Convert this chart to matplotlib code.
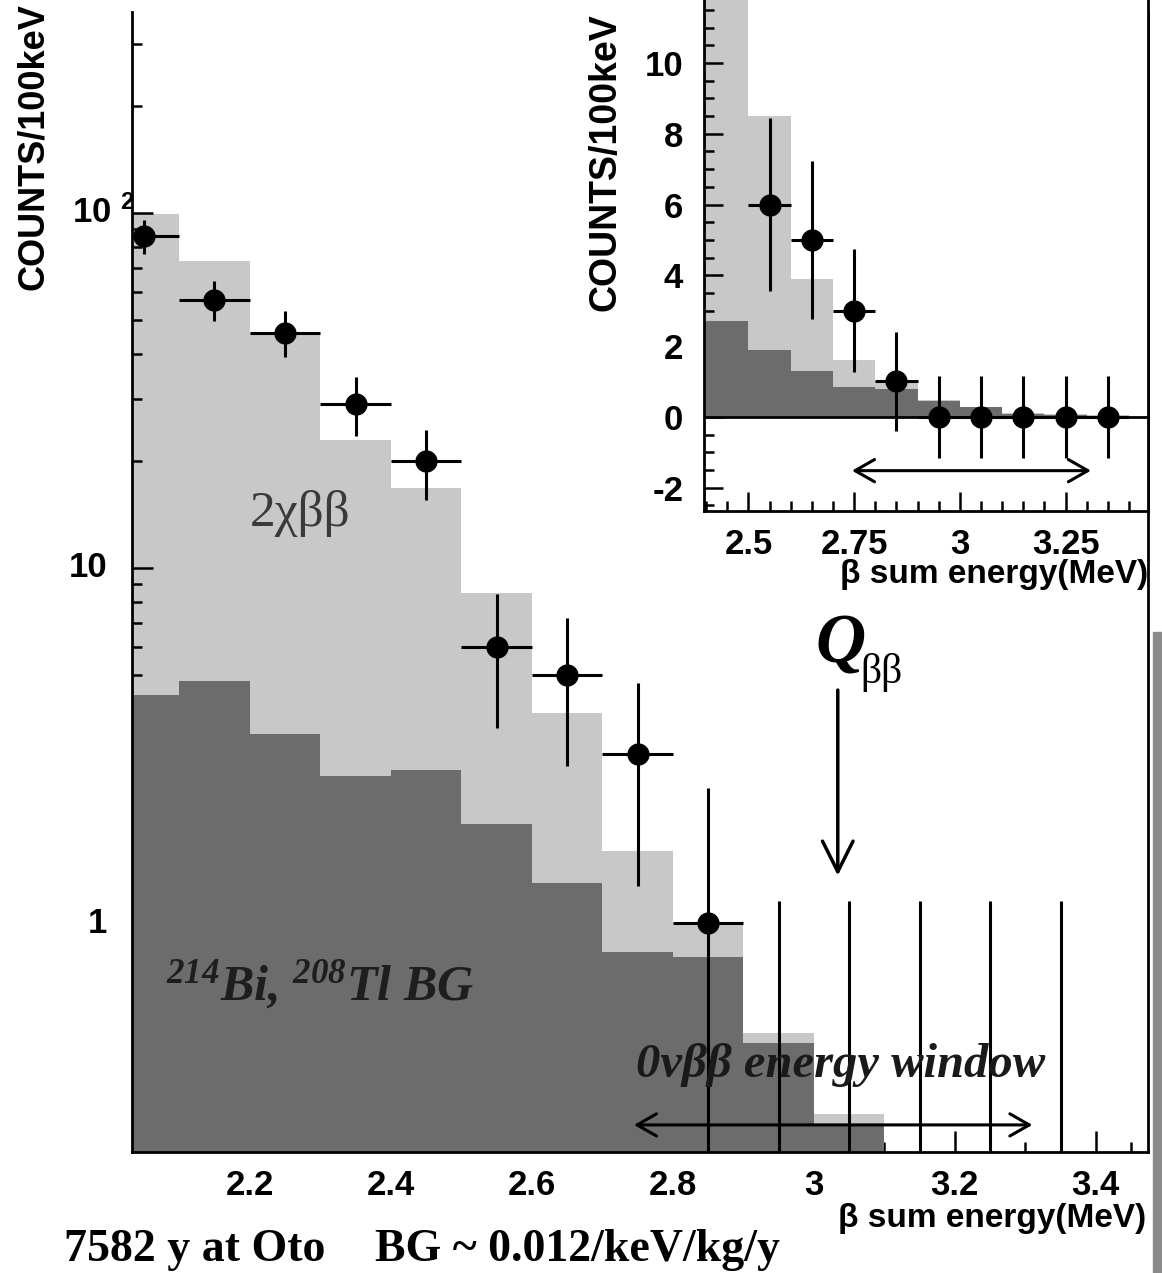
import matplotlib
matplotlib.use("Agg")
import matplotlib.pyplot as plt
from matplotlib.ticker import MultipleLocator, FixedLocator, FuncFormatter, LogLocator, NullFormatter
from matplotlib.patches import Rectangle

plt.rcParams["mathtext.default"] = "regular"
plt.rcParams["axes.unicode_minus"] = False

# 100 keV bins (lower edges), MeV
bin_lo = [2.0, 2.1, 2.2, 2.3, 2.4, 2.5, 2.6, 2.7, 2.8, 2.9, 3.0, 3.1, 3.2, 3.3]
# light grey: 2nu-bb + background (total MC)
mc_total = [99, 73, 46, 23, 16.8, 8.5, 3.9, 1.6, 1.0, 0.49, 0.29, 0.12, 0.08, 0.05]
# dark grey: 214Bi, 208Tl background
mc_bg = [4.4, 4.8, 3.4, 2.6, 2.7, 1.9, 1.3, 0.83, 0.80, 0.46, 0.27, 0.08, 0.05, 0.03]

# data points
data_x = [2.05, 2.15, 2.25, 2.35, 2.45, 2.55, 2.65, 2.75, 2.85, 2.95, 3.05, 3.15, 3.25, 3.35]
data_y = [86, 57, 46, 29, 20, 6, 5, 3, 1, 0, 0, 0, 0, 0]
data_err = [9.3, 7.5, 6.8, 5.4, 4.5, 2.45, 2.24, 1.73, 1.4, 1.15, 1.15, 1.15, 1.15, 1.15]

# log axis labels of the main panel
ytick_vals = [1, 10, 100]
ytick_text = ["1", "10", "10 $^{2}$"]

q_bb = 3.034
window = (2.745, 3.31)

W, H = 1162, 1273
LIGHT = "#c8c8c8"
DARK = "#6c6c6c"
SANS = "Liberation Sans"
SERIF = "Liberation Serif"


def fp(x, y):
    # pixel position -> figure fraction
    return x / W, 1 - y / H


def style_ticklabels(a):
    for lab in a.get_xticklabels() + a.get_yticklabels():
        lab.set_fontfamily(SANS)
        lab.set_fontweight("bold")
        lab.set_fontsize(25)


fig = plt.figure(figsize=(W / 100, H / 100), dpi=100)

# ---------------- main panel (log) ----------------
ax = fig.add_axes([132 / W, 1 - 1152 / H, (1148 - 132) / W, (1152 - 12) / H])
ax.set_yscale("log")
ax.bar(bin_lo, mc_total, width=0.1, align="edge", color=LIGHT, edgecolor="none", zorder=1)
ax.bar(bin_lo, mc_bg, width=0.1, align="edge", color=DARK, edgecolor="none", zorder=2)
ax.errorbar(data_x, data_y, yerr=data_err, xerr=0.05, fmt="o", color="black",
            ms=15, elinewidth=2.2, capsize=0, zorder=4)
ax.set_xlim(2.033, 3.474)
ax.set_ylim(0.2265, 368)

ax.yaxis.set_major_locator(FixedLocator(ytick_vals))
ax.yaxis.set_major_formatter(NullFormatter())
ax.yaxis.set_minor_locator(LogLocator(base=10, subs=range(2, 10)))
ax.yaxis.set_minor_formatter(NullFormatter())
ax.xaxis.set_major_locator(MultipleLocator(0.2))
ax.xaxis.set_minor_locator(MultipleLocator(0.05))
ax.xaxis.set_major_formatter(FuncFormatter(lambda v, p: "%g" % round(v, 2)))
ax.tick_params(which="both", direction="in", top=False, right=False, width=1.8)
ax.tick_params(which="major", length=15)
ax.tick_params(which="minor", length=7)
ax.tick_params(axis="x", which="major", pad=12)
style_ticklabels(ax)
ax.spines["top"].set_visible(False)
for s in ("left", "bottom", "right"):
    ax.spines[s].set_linewidth(2)

# y labels: "10" and "1" right-aligned, "10 2" starts at the same left edge as "10"
ytrans = ax.get_yaxis_transform()
for v, s in zip(ytick_vals, ytick_text):
    if "$" in s:
        ax.text((72 - 132) / 1016, v, s, transform=ytrans, ha="left", va="center",
                family=SANS, fontweight="bold", fontsize=25)
    else:
        ax.text((107 - 132) / 1016, v, s, transform=ytrans, ha="right", va="center",
                family=SANS, fontweight="bold", fontsize=25)

# Q_bb arrow and energy window
ax.annotate("", xy=(q_bb, 1.36), xytext=(q_bb, 4.53),
            arrowprops=dict(arrowstyle="->,head_length=2.2,head_width=1.1",
                            lw=2.5, color="black", mutation_scale=10, shrinkA=0, shrinkB=0))
ax.annotate("", xy=(window[0], 0.27), xytext=(window[1], 0.27),
            arrowprops=dict(arrowstyle="<->,head_length=1.4,head_width=0.8",
                            lw=2.2, color="black", mutation_scale=10, shrinkA=0, shrinkB=0),
            zorder=5)

fig.text(*fp(250, 513), "2χββ", family=SERIF, fontsize=37, color="#3a3a3a",
         ha="left", va="center")
fig.text(*fp(166, 985), "$^{214}$Bi, $^{208}$Tl BG", family=SERIF, fontsize=36,
         fontweight="bold", fontstyle="italic", color="#1e1e1e", ha="left", va="center")
fig.text(*fp(815, 645), "Q", family=SERIF, fontsize=50, fontweight="bold",
         fontstyle="italic", color="black", ha="left", va="center")
fig.text(*fp(860, 672), "ββ", family=SERIF, fontsize=30, color="black",
         ha="left", va="center")
fig.text(*fp(636, 1065), "0νββ energy window", family=SERIF, fontsize=35,
         fontweight="bold", fontstyle="italic", color="#1a1a1a", ha="left", va="center")

fig.text(*fp(1146, 1218), "β sum energy(MeV)", family=SANS, fontweight="bold",
         fontsize=24, ha="right", va="center")
fig.text(*fp(34, 290), "COUNTS/100keV", family=SANS, fontweight="bold", fontsize=26,
         rotation=90, ha="center", va="bottom")
fig.text(*fp(64, 1250), "7582 y at Oto", family=SERIF, fontweight="bold", fontsize=33,
         ha="left", va="center")
fig.text(*fp(375, 1250), "BG ~ 0.012/keV/kg/y", family=SERIF, fontweight="bold",
         fontsize=33, ha="left", va="center")

# ---------------- inset (linear) ----------------
ins = fig.add_axes([704 / W, 1 - 511 / H, (1148 - 704) / W, 511 / H])
ins.set_facecolor("white")
ins.bar(bin_lo, mc_total, width=0.1, align="edge", color=LIGHT, edgecolor="none", zorder=1)
ins.bar(bin_lo, mc_bg, width=0.1, align="edge", color=DARK, edgecolor="none", zorder=2)
ins.axhline(0, color="black", lw=2, zorder=3)
ins.errorbar(data_x[5:], data_y[5:], yerr=data_err[5:], xerr=0.05, fmt="o",
             color="black", ms=15, elinewidth=2.2, capsize=0, zorder=4)
ins.annotate("", xy=(window[0], -1.52), xytext=(window[1], -1.52),
             arrowprops=dict(arrowstyle="<->,head_length=1.4,head_width=0.8",
                             lw=2.2, color="black", mutation_scale=10, shrinkA=0, shrinkB=0))
ins.set_xlim(2.395, 3.445)
ins.set_ylim(-2.66, 11.78)
ins.yaxis.set_major_locator(MultipleLocator(2))
ins.yaxis.set_minor_locator(MultipleLocator(0.5))
ins.yaxis.set_major_formatter(FuncFormatter(lambda v, p: "%g" % round(v, 2)))
ins.xaxis.set_major_locator(FixedLocator([2.5, 2.75, 3.0, 3.25]))
ins.xaxis.set_minor_locator(MultipleLocator(0.05))
ins.xaxis.set_major_formatter(FuncFormatter(lambda v, p: "%g" % round(v, 2)))
ins.tick_params(which="both", direction="in", top=False, right=False, width=1.8)
ins.tick_params(which="major", length=14)
ins.tick_params(which="minor", length=7)
ins.tick_params(axis="x", which="major", pad=12)
ins.tick_params(axis="y", which="major", pad=15)
style_ticklabels(ins)
ins.spines["top"].set_visible(False)
for s in ("left", "bottom", "right"):
    ins.spines[s].set_linewidth(2)

fig.text(*fp(1148, 575), "β sum energy(MeV)", family=SANS, fontweight="bold",
         fontsize=24, ha="right", va="center")
fig.text(*fp(605, 311), "COUNTS/100keV", family=SANS, fontweight="bold", fontsize=27,
         rotation=90, ha="center", va="bottom")

# scanned page edge on the right
fig.patches.append(Rectangle((1153 / W, 0), 9 / W, (H - 632) / H,
                             transform=fig.transFigure, color="#8a8a8a", zorder=0))

fig.savefig("out.png", dpi=100)
